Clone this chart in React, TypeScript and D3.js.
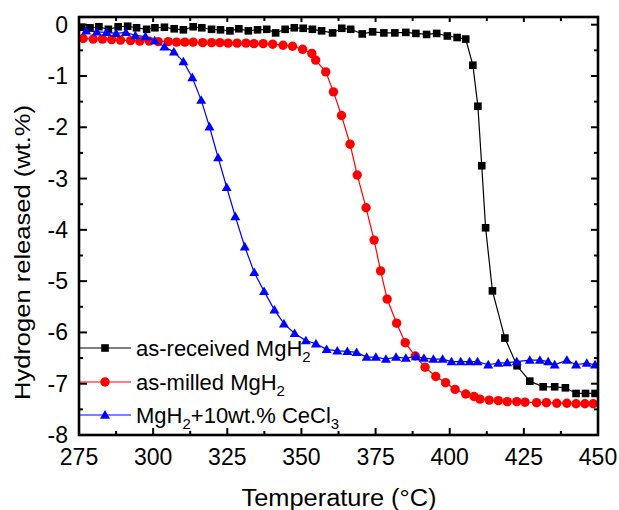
import React from 'react';
import * as d3 from 'd3';

// [temperature °C, hydrogen released wt.%]
const asReceived: [number, number][] = [
  [275.9, -0.05], [278.7, -0.06], [281.7, -0.04], [284.9, -0.09], [288.2, -0.04],
  [291.4, -0.03], [294.4, -0.06], [297.8, -0.09], [300.6, -0.06], [303.8, -0.05],
  [307.1, -0.08], [310.2, -0.10], [313.5, -0.04], [316.4, -0.06], [319.7, -0.09],
  [322.7, -0.10], [325.9, -0.12], [328.9, -0.08], [332.1, -0.12], [335.2, -0.10],
  [338.3, -0.09], [341.3, -0.16], [344.5, -0.09], [347.6, -0.06], [350.6, -0.07],
  [353.7, -0.09], [356.8, -0.12], [360.5, -0.16], [363.6, -0.07], [366.6, -0.09],
  [370.5, -0.18], [374.0, -0.14], [377.8, -0.16], [381.5, -0.16], [385.2, -0.15],
  [388.6, -0.17], [392.2, -0.19], [395.6, -0.17], [399.2, -0.22], [402.5, -0.25],
  [405.4, -0.28], [407.8, -0.79], [409.5, -1.59], [410.8, -2.75], [412.1, -3.96],
  [414.4, -5.19], [418.6, -6.11], [422.7, -6.65], [427.0, -6.95], [431.5, -7.06],
  [435.4, -7.06], [439.0, -7.08], [442.6, -7.19], [445.8, -7.19], [449.0, -7.19],
];

const asMilled: [number, number][] = [
  [276.4, -0.27], [279.8, -0.28], [282.9, -0.28], [286.0, -0.29], [289.0, -0.30],
  [292.4, -0.31], [295.5, -0.32], [298.7, -0.32], [301.7, -0.33], [305.1, -0.33],
  [307.9, -0.34], [310.7, -0.34], [313.5, -0.34], [316.7, -0.35], [319.7, -0.35],
  [322.5, -0.35], [325.3, -0.36], [328.3, -0.36], [331.3, -0.36], [334.0, -0.37],
  [337.1, -0.37], [340.3, -0.38], [343.8, -0.40], [347.0, -0.42], [350.4, -0.48],
  [353.5, -0.56], [354.8, -0.69], [358.2, -0.92], [360.8, -1.31], [363.5, -1.77],
  [366.4, -2.33], [368.8, -2.93], [371.8, -3.57], [374.5, -4.20], [376.7, -4.80],
  [378.9, -5.35], [382.1, -5.82], [385.0, -6.20], [388.4, -6.46], [391.7, -6.68],
  [395.3, -6.86], [398.6, -6.98], [401.8, -7.11], [405.4, -7.20], [408.2, -7.25],
  [410.2, -7.30], [413.3, -7.32], [416.4, -7.33], [419.4, -7.35], [422.6, -7.35],
  [425.4, -7.36], [429.3, -7.37], [432.6, -7.37], [436.1, -7.38], [439.5, -7.38],
  [442.6, -7.39], [445.6, -7.39], [448.4, -7.39],
];

const withCeCl3: [number, number][] = [
  [277.4, -0.12], [281.0, -0.14], [284.3, -0.15], [287.5, -0.17], [290.8, -0.15],
  [294.0, -0.21], [297.4, -0.23], [300.5, -0.31], [303.8, -0.43], [307.0, -0.53],
  [310.2, -0.72], [313.2, -1.03], [316.2, -1.47], [319.0, -1.99], [321.9, -2.59],
  [324.8, -3.17], [327.7, -3.74], [330.9, -4.33], [334.1, -4.83], [337.4, -5.20],
  [340.9, -5.56], [344.1, -5.83], [347.7, -6.02], [351.5, -6.16], [354.9, -6.22],
  [358.5, -6.33], [362.1, -6.36], [365.5, -6.37], [368.6, -6.39], [372.0, -6.48],
  [375.1, -6.48], [378.5, -6.52], [381.9, -6.48], [385.2, -6.50], [388.6, -6.47],
  [391.3, -6.50], [394.5, -6.52], [397.6, -6.52], [400.6, -6.57], [403.7, -6.57],
  [406.7, -6.57], [409.4, -6.57], [413.0, -6.63], [416.4, -6.60], [419.4, -6.59],
  [422.6, -6.57], [427.0, -6.54], [430.4, -6.54], [433.2, -6.57], [435.4, -6.63],
  [439.5, -6.54], [442.6, -6.63], [446.2, -6.60], [449.0, -6.63],
];

const xTicks = [275, 300, 325, 350, 375, 400, 425, 450];
const xMinorTicks = [287.5, 312.5, 337.5, 362.5, 387.5, 412.5, 437.5];
const yTicks = [0, -1, -2, -3, -4, -5, -6, -7, -8];
const yMinorTicks = [-0.5, -1.5, -2.5, -3.5, -4.5, -5.5, -6.5, -7.5];

const legendLabels = [
  { main: 'as-received MgH', sub: '2', tail: '' },
  { main: 'as-milled MgH', sub: '2', tail: '' },
  { main: 'MgH', sub: '2', tail: '+10wt.% CeCl', sub2: '3' },
];

const width = 619;
const height = 510;
const margin = { left: 79, right: 21, top: 17, bottom: 75 };
const font = 'Arial, "Liberation Sans", sans-serif';

const x = d3.scaleLinear().domain([275, 450]).range([margin.left, width - margin.right]);
const y = d3.scaleLinear().domain([-8, 0.15]).range([height - margin.bottom, margin.top]);

const line = d3.line<[number, number]>()
  .x((d) => x(d[0]))
  .y((d) => y(d[1]));

function Marker({ kind, cx, cy, color }: { kind: string; cx: number; cy: number; color: string }) {
  if (kind === 'square') {
    return <rect x={cx - 3.8} y={cy - 3.8} width={7.6} height={7.6} fill={color} />;
  }
  if (kind === 'circle') {
    return <circle cx={cx} cy={cy} r={4.7} fill={color} />;
  }
  const s = 4.9;
  return <path d={`M${cx},${cy - s}L${cx + s * 1.02},${cy + s * 0.75}L${cx - s * 1.02},${cy + s * 0.75}Z`} fill={color} />;
}

const series = [
  { data: asReceived, color: '#000000', kind: 'square' },
  { data: asMilled, color: '#ff0000', kind: 'circle' },
  { data: withCeCl3, color: '#0000ff', kind: 'triangle' },
];

export default function App() {
  const x0 = margin.left;
  const x1 = width - margin.right;
  const y0 = height - margin.bottom;
  const y1 = margin.top;
  const legendRows = [348, 382, 415];

  return (
    <svg width={width} height={height} style={{ position: 'absolute', left: 0, top: 0, background: '#fff' }}
      fontFamily={font}>
      <defs>
        <clipPath id="plot">
          <rect x={x0} y={y1} width={x1 - x0} height={y0 - y1} />
        </clipPath>
      </defs>

      <g clipPath="url(#plot)">
        {series.map((s, i) => (
          <g key={i}>
            <path d={line(s.data) || ''} fill="none" stroke={s.color} strokeWidth={1.2} />
            {s.data.map((d, j) => (
              <Marker key={j} kind={s.kind} cx={x(d[0])} cy={y(d[1])} color={s.color} />
            ))}
          </g>
        ))}
      </g>

      {/* legend */}
      {series.map((s, i) => {
        const ly = legendRows[i];
        const lab = legendLabels[i];
        return (
          <g key={i}>
            <line x1={x0} x2={131} y1={ly} y2={ly} stroke={s.color} strokeWidth={1.2} />
            <Marker kind={s.kind} cx={105} cy={ly} color={s.color} />
            <text x={136} y={ly + 8} fontSize={22} fill="#000">
              {lab.main}
              <tspan fontSize={15} dy={6}>{lab.sub}</tspan>
              {lab.tail && <tspan dy={-6}>{lab.tail}</tspan>}
              {lab.sub2 && <tspan fontSize={15} dy={6}>{lab.sub2}</tspan>}
            </text>
          </g>
        );
      })}

      {/* ticks */}
      {xTicks.map((t) => (
        <g key={'xt' + t}>
          <line x1={x(t)} x2={x(t)} y1={y0} y2={y0 - 7} stroke="#000" strokeWidth={2} />
          <line x1={x(t)} x2={x(t)} y1={y1} y2={y1 + 5} stroke="#000" strokeWidth={2} />
          <text x={x(t)} y={y0 + 30} fontSize={23} textAnchor="middle">{t}</text>
        </g>
      ))}
      {xMinorTicks.map((t) => (
        <g key={'xm' + t}>
          <line x1={x(t)} x2={x(t)} y1={y0} y2={y0 - 4} stroke="#000" strokeWidth={2} />
          <line x1={x(t)} x2={x(t)} y1={y1} y2={y1 + 4} stroke="#000" strokeWidth={2} />
        </g>
      ))}
      {yTicks.map((t) => (
        <g key={'yt' + t}>
          <line x1={x0} x2={x0 + 8} y1={y(t)} y2={y(t)} stroke="#000" strokeWidth={2} />
          <line x1={x1} x2={x1 - 7} y1={y(t)} y2={y(t)} stroke="#000" strokeWidth={2} />
          <text x={68} y={y(t) + 8} fontSize={23} textAnchor="end">{t === 0 ? '0' : `-${Math.abs(t)}`}</text>
        </g>
      ))}
      {yMinorTicks.map((t) => (
        <g key={'ym' + t}>
          <line x1={x0} x2={x0 + 4} y1={y(t)} y2={y(t)} stroke="#000" strokeWidth={2} />
          <line x1={x1} x2={x1 - 4} y1={y(t)} y2={y(t)} stroke="#000" strokeWidth={2} />
        </g>
      ))}

      {/* frame */}
      <rect x={x0} y={y1} width={x1 - x0} height={y0 - y1} fill="none" stroke="#000" strokeWidth={2.6} />

      {/* axis titles */}
      <text x={339} y={506} fontSize={23} textAnchor="middle" textLength={195} lengthAdjust="spacingAndGlyphs">
        Temperature (°C)
      </text>
      <text transform="translate(30, 252.5) rotate(-90)" fontSize={22} textAnchor="middle"
        textLength={295} lengthAdjust="spacingAndGlyphs">
        Hydrogen released (wt.%)
      </text>
    </svg>
  );
}
